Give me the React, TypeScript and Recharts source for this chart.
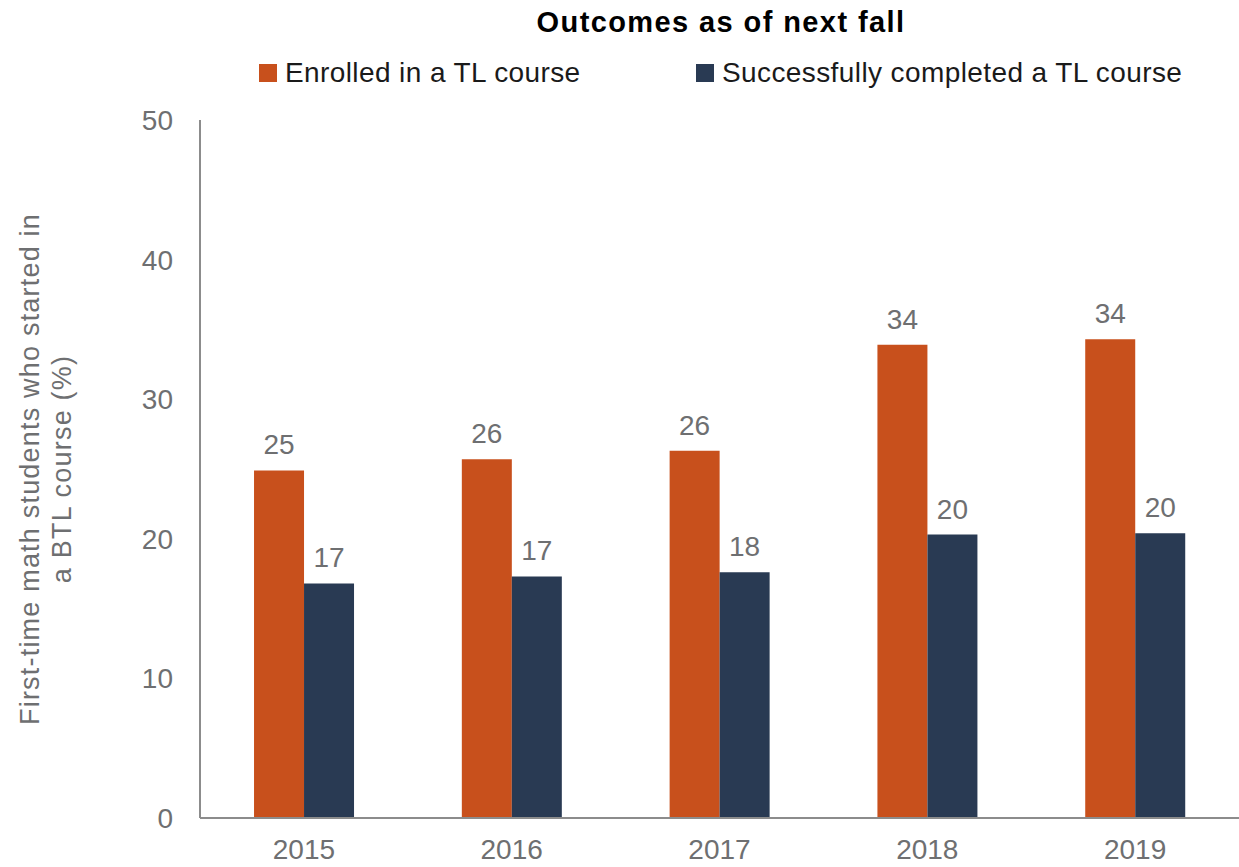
import React from 'react';
import { BarChart, Bar, XAxis, YAxis, LabelList } from 'recharts';

const years = ['2015', '2016', '2017', '2018', '2019'];
const enrolled = [24.9, 25.7, 26.3, 33.9, 34.3];
const completed = [16.8, 17.3, 17.6, 20.3, 20.4];
const yTicks = [0, 10, 20, 30, 40, 50];
const seriesNames = ['Enrolled in a TL course', 'Successfully completed a TL course'];
const title = 'Outcomes as of next fall';
const yLabelLines = ['First-time math students who started in', 'a BTL course (%)'];

const ORANGE = '#C8501C';
const NAVY = '#293A53';
const GRAY = '#6E6F71';
const AXIS = '#8C8C8C';
const FONT = '"Liberation Sans", Arial, sans-serif';

const data = years.map((y, i) => ({ year: y, enrolled: enrolled[i], completed: completed[i] }));

const YLabel = () => {
  const cy = 469;
  const cx = 39;
  return (
    <g transform={`rotate(-90, ${cx}, ${cy})`} fontFamily={FONT} fontSize={27} fill={GRAY} letterSpacing={1.2}>
      <text x={cx} y={cy} textAnchor="middle">{yLabelLines[0]}</text>
      <text x={cx} y={cy + 32} textAnchor="middle">{yLabelLines[1]}</text>
    </g>
  );
};

const fmt = (v: any) => Math.round(Number(v)).toString();

const labelStyle = { fill: GRAY, fontSize: 28, fontFamily: FONT };

export default function App() {
  return (
    <div style={{ position: 'absolute', left: 0, top: 0, width: 1239, height: 867, background: '#fff', fontFamily: FONT }}>
      <div style={{ position: 'absolute', left: 0, width: 1442, top: 6, textAlign: 'center', fontWeight: 'bold', fontSize: 29, letterSpacing: 1.4, color: '#000' }}>
        {title}
      </div>
      <div style={{ position: 'absolute', left: 259, top: 57, fontSize: 28, letterSpacing: 0.4, color: '#1a1a1a', display: 'flex', alignItems: 'center', whiteSpace: 'nowrap' }}>
        <span style={{ display: 'inline-block', width: 18, height: 18, background: ORANGE, marginRight: 8 }} />
        {seriesNames[0]}
      </div>
      <div style={{ position: 'absolute', left: 696, top: 57, fontSize: 28, letterSpacing: 0.4, color: '#1a1a1a', display: 'flex', alignItems: 'center', whiteSpace: 'nowrap' }}>
        <span style={{ display: 'inline-block', width: 18, height: 18, background: NAVY, marginRight: 8 }} />
        {seriesNames[1]}
      </div>
      <div style={{ position: 'absolute', left: 0, top: 0 }}>
        <BarChart
          width={1239}
          height={867}
          data={data}
          margin={{ top: 120, right: 0, bottom: 0, left: 140 }}
          barCategoryGap="26%"
          barGap={0}
        >
          <XAxis
            dataKey="year"
            height={49}
            axisLine={{ stroke: AXIS, strokeWidth: 2 }}
            tickLine={false}
            tick={{ fill: GRAY, fontSize: 28, fontFamily: FONT }}
            tickMargin={15}
          />
          <YAxis
            domain={[0, 50]}
            ticks={yTicks}
            interval={0}
            axisLine={{ stroke: AXIS, strokeWidth: 2 }}
            tickLine={false}
            tick={{ fill: GRAY, fontSize: 28, fontFamily: FONT }}
            tickMargin={21}
            width={60}
            label={<YLabel />}
          />
          <Bar dataKey="enrolled" name={seriesNames[0]} fill={ORANGE} isAnimationActive={false}>
            <LabelList dataKey="enrolled" position="top" offset={16} formatter={fmt} style={labelStyle} />
          </Bar>
          <Bar dataKey="completed" name={seriesNames[1]} fill={NAVY} isAnimationActive={false}>
            <LabelList dataKey="completed" position="top" offset={16} formatter={fmt} style={labelStyle} />
          </Bar>
        </BarChart>
      </div>
    </div>
  );
}
